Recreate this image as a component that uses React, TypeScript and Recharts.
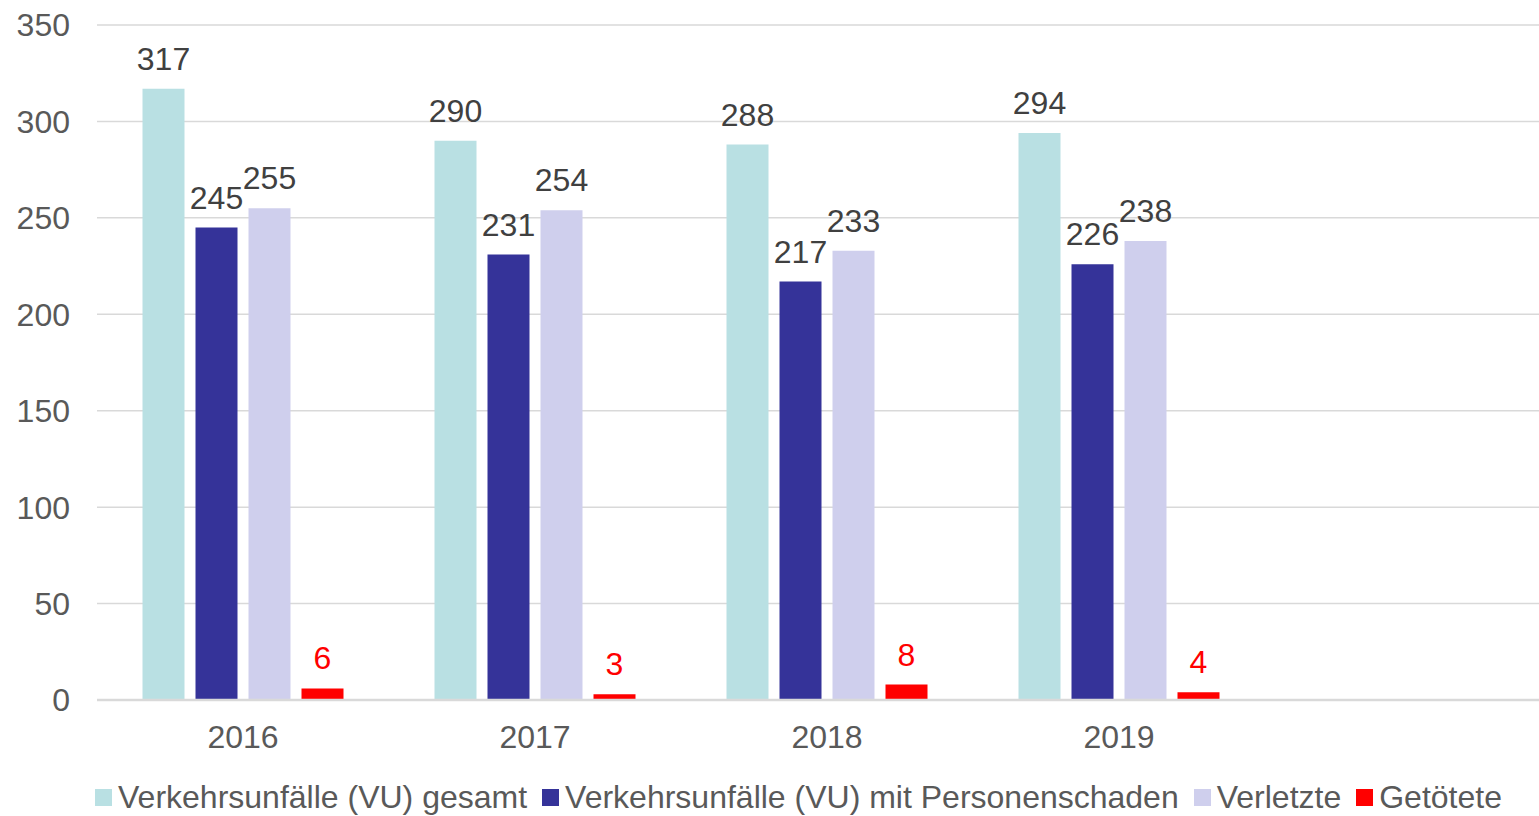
import React from "react";
import { BarChart, Bar, XAxis, YAxis, CartesianGrid, LabelList } from "recharts";

const years = ["2016", "2017", "2018", "2019", ""];
const vuGesamt = [317, 290, 288, 294, null];
const vuPersonen = [245, 231, 217, 226, null];
const verletzte = [255, 254, 233, 238, null];
const getoetete = [6, 3, 8, 4, null];
const yTicks = [0, 50, 100, 150, 200, 250, 300, 350];

const seriesNames = [
  "Verkehrsunfälle (VU) gesamt",
  "Verkehrsunfälle (VU) mit Personenschaden",
  "Verletzte",
  "Getötete",
];
const seriesColors = ["#B9E0E3", "#353399", "#CFCFED", "#FF0000"];

const data = years.map((y, i) => ({
  year: y,
  a: vuGesamt[i],
  b: vuPersonen[i],
  c: verletzte[i],
  d: getoetete[i],
}));

const FONT = "Arial, 'Liberation Sans', sans-serif";

const LegendBox = () => (
  <div
    style={{
      position: "absolute",
      left: 95,
      top: 778,
      display: "flex",
      alignItems: "center",
      fontFamily: FONT,
      fontSize: 32,
      lineHeight: "38px",
      color: "#595959",
      whiteSpace: "nowrap",
    }}
  >
    {seriesNames.map((n, i) => (
      <div key={n} style={{ display: "flex", alignItems: "center", marginRight: 15 }}>
        <div style={{ width: 17, height: 17, background: seriesColors[i], marginRight: 6 }} />
        <span>{n}</span>
      </div>
    ))}
  </div>
);

export default function App() {
  const keys = ["a", "b", "c", "d"];
  return (
    <div
      style={{
        position: "fixed",
        left: 0,
        top: 0,
        width: 1539,
        height: 816,
        overflow: "hidden",
        background: "#fff",
      }}
    >
      <BarChart
        width={1600}
        height={816}
        data={data}
        margin={{ top: 25, right: 43, bottom: 0, left: 0 }}
        barGap={11}
        barCategoryGap={45.5}
      >
        <CartesianGrid vertical={false} stroke="#D9D9D9" strokeWidth={1.5} />
        <XAxis
          dataKey="year"
          tickLine={false}
          axisLine={{ stroke: "#D9D9D9", strokeWidth: 2.5 }}
          tickSize={0}
          tickMargin={25}
          height={116}
          tick={{ fill: "#595959", fontSize: 32, fontFamily: FONT }}
        />
        <YAxis
          domain={[0, 350]}
          ticks={yTicks}
          width={97}
          tickLine={false}
          axisLine={false}
          tickSize={0}
          tickMargin={27}
          tick={{ fill: "#595959", fontSize: 32, fontFamily: FONT }}
        />
        {keys.map((k, i) => (
          <Bar
            key={k}
            dataKey={k}
            name={seriesNames[i]}
            fill={seriesColors[i]}
            isAnimationActive={false}
          >
            <LabelList
              dataKey={k}
              position="top"
              offset={19}
              fill={i === 3 ? "#FF0000" : "#404040"}
              fontSize={32}
              fontFamily={FONT}
            />
          </Bar>
        ))}
      </BarChart>
      <LegendBox />
    </div>
  );
}
